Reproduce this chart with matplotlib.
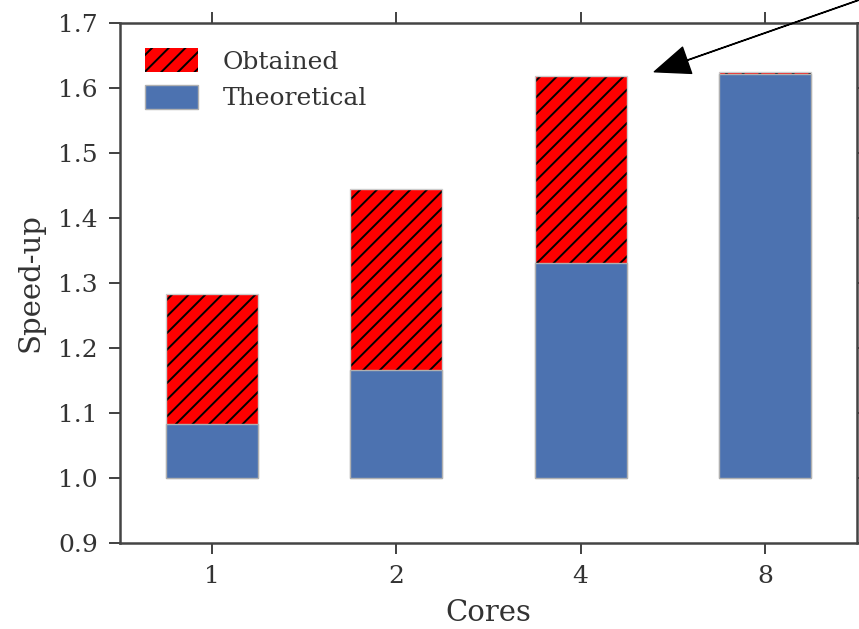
import matplotlib.pyplot as plt
import numpy as np

# ==================== DATA ====================
cores = ["1", "2", "4", "8"]
obtained = [1.283, 1.445, 1.618, 1.624]
theoretical = [1.083, 1.166, 1.331, 1.622]
base = 1.0

# ==================== STYLE ===================
plt.rcParams["font.family"] = "DejaVu Serif"
plt.rcParams["text.color"] = "#333333"
plt.rcParams["axes.labelcolor"] = "#333333"
plt.rcParams["xtick.color"] = "#333333"
plt.rcParams["ytick.color"] = "#333333"
plt.rcParams["hatch.linewidth"] = 1.4

fig = plt.figure(figsize=(8.59, 6.29), dpi=100)
ax = fig.add_axes([0.1397, 0.1367, 0.858, 0.8267])

x = np.arange(len(cores))
ob = np.array(obtained) - base
th = np.array(theoretical) - base

ax.bar(x, ob, 0.5, bottom=base, color="#ff0000", edgecolor="black",
       linewidth=0, hatch="//", label="Obtained")
ax.bar(x, ob, 0.5, bottom=base, fill=False, edgecolor="#cccccc", linewidth=1)
ax.bar(x, th, 0.5, bottom=base, color="#4c72b0", edgecolor="#b0b0b0",
       linewidth=1, label="Theoretical")

ax.set_xlim(-0.5, 3.5)
ax.set_ylim(0.9, 1.7)
ax.set_xticks(x)
ax.set_xticklabels(cores)
ax.set_yticks(np.arange(0.9, 1.71, 0.1))
ax.set_yticklabels(["%.1f" % v for v in np.arange(0.9, 1.71, 0.1)])
ax.set_xlabel("Cores", fontsize=21, labelpad=8)
ax.set_ylabel("Speed-up", fontsize=21, labelpad=10)
ax.tick_params(direction="out", length=8, width=1.3, labelsize=18,
               pad=8, top=True, right=True)
for s in ax.spines.values():
    s.set_color("#444444")
    s.set_linewidth(1.8)

ax.legend(loc="upper left", frameon=False, fontsize=18,
          handlelength=2.1, handleheight=1.1, handletextpad=1.0,
          labelspacing=0.45, borderaxespad=0.6)

ax.annotate("", xy=(2.40, 1.625), xycoords="data",
            xytext=(1.0, 1.0), textcoords="figure fraction",
            arrowprops=dict(facecolor="black", edgecolor="black",
                            width=0.3, headwidth=20, headlength=25),
            annotation_clip=False)

plt.savefig("out.png")
